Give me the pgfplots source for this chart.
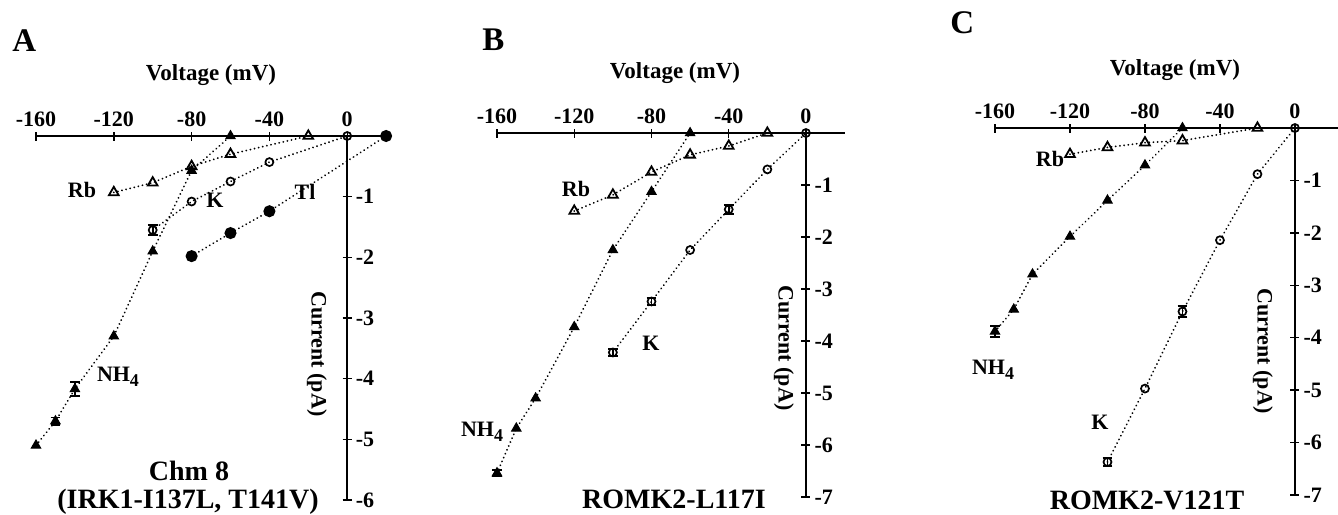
\documentclass[border=0pt]{standalone}
\usepackage{fontspec}
\setmainfont{Liberation Serif}
\usepackage{pgfplots}
\pgfplotsset{compat=1.18}

\newcommand{\fs}{\fontsize{11}{13}\selectfont\bfseries}
\newcommand{\NH}{NH\raisebox{-0.5ex}{\fontsize{9}{10}\selectfont 4}}
\pgfplotsset{
  ivstyle/.style={
    scale only axis, clip=false,
    axis lines=middle,
    axis line style={-, line width=0.9pt, black},
    every inner x axis line/.append style={-},
    every inner y axis line/.append style={-},
    hide obscured x ticks=false,
    hide obscured y ticks=false,
    tick align=center, major tick length=4.5pt,
    tick style={line width=0.7pt, black},
    xtick={-160,-120,-80,-40,0},
    xticklabels={-160,-120,-80,-40,0},
    xticklabel style={anchor=south, yshift=3.5pt, font=\fs},
    yticklabel style={anchor=west, xshift=3pt, font=\fs},
  },
  dl/.style={black, line width=1pt, dash pattern=on 0.01pt off 2.1pt, line cap=round},
  ftri/.style={dl, mark=triangle*, mark size=2.7pt, mark options={solid, fill=black, draw=black, line width=0.5pt}},
  otri/.style={dl, mark=triangle, mark size=2.8pt, mark options={solid, draw=black, line width=0.9pt}},
  ocirc/.style={dl, mark=o, mark size=2pt, mark options={solid, draw=black, line width=0.85pt}},
  fcirc/.style={dl, mark=*, mark size=2.5pt, mark options={solid, fill=black, draw=black}},
  eb/.style={draw=none, mark=none, forget plot,
    error bars/.cd, y dir=both, y explicit,
    error mark=|,
    error bar style={line width=0.8pt, black},
    error mark options={line width=0.9pt, mark size=2.4pt, black}},
}

\begin{document}
\begin{tikzpicture}[x=0.5pt, y=0.5pt]
\path[use as bounding box] (0,0) rectangle (1338,-514);

% ---------------- Panel A ----------------
\begin{axis}[ivstyle, at={(18pt,-250pt)}, anchor=south west,
  width=177pt, height=182pt,
  xmin=-160, xmax=22, ymin=-6, ymax=0,
  ytick={-6,-5,-4,-3,-2,-1}, yticklabels={-6,-5,-4,-3,-2,-1}]
\addplot[ftri] coordinates {(-160,-5.1) (-150,-4.7) (-140,-4.17) (-120,-3.3) (-100,-1.9) (-80,-0.57) (-60,0)};
\addplot[eb] coordinates {(-140,-4.17) +- (0,0.12) (-150,-4.7) +- (0,0.06)};
\addplot[otri] coordinates {(-120,-0.93) (-100,-0.77) (-80,-0.5) (-60,-0.3) (-20,0)};
\addplot[ocirc] coordinates {(-100,-1.55) (-80,-1.08) (-60,-0.75) (-40,-0.43) (0,0)};
\addplot[eb] coordinates {(-100,-1.55) +- (0,0.08)};
\addplot[fcirc] coordinates {(-80,-1.98) (-60,-1.6) (-40,-1.24) (20,0)};
\end{axis}

% ---------------- Panel B ----------------
\begin{axis}[ivstyle, at={(248.5pt,-248.5pt)}, anchor=south west,
  width=173.8pt, height=182pt,
  xmin=-160, xmax=20, ymin=-7, ymax=0,
  ytick={-7,-6,-5,-4,-3,-2,-1}, yticklabels={-7,-6,-5,-4,-3,-2,-1}]
\addplot[ftri] coordinates {(-160,-6.54) (-150,-5.68) (-140,-5.1) (-120,-3.73) (-100,-2.25) (-80,-1.13) (-60,0)};
\addplot[eb] coordinates {(-160,-6.54) +- (0,0.06)};
\addplot[otri] coordinates {(-120,-1.5) (-100,-1.19) (-80,-0.75) (-60,-0.42) (-40,-0.25) (-20,0)};
\addplot[ocirc] coordinates {(-100,-4.22) (-80,-3.24) (-60,-2.25) (-40,-1.47) (-20,-0.7) (0,0)};
\addplot[eb] coordinates {(-100,-4.22) +- (0,0.07) (-80,-3.24) +- (0,0.07) (-40,-1.47) +- (0,0.08)};
\end{axis}

% ---------------- Panel C ----------------
\begin{axis}[ivstyle, at={(497.5pt,-247.5pt)}, anchor=south west,
  width=173.4pt, height=183.5pt,
  xmin=-160, xmax=25, ymin=-7, ymax=0,
  ytick={-7,-6,-5,-4,-3,-2,-1}, yticklabels={-7,-6,-5,-4,-3,-2,-1}]
\addplot[ftri] coordinates {(-160,-3.88) (-150,-3.46) (-140,-2.79) (-120,-2.07) (-100,-1.38) (-80,-0.71) (-60,0)};
\addplot[eb] coordinates {(-160,-3.88) +- (0,0.11)};
\addplot[otri] coordinates {(-120,-0.5) (-100,-0.37) (-80,-0.28) (-60,-0.24) (-20,0)};
\addplot[ocirc] coordinates {(-100,-6.37) (-80,-4.97) (-60,-3.5) (-40,-2.14) (-20,-0.88) (0,0)};
\addplot[eb] coordinates {(-100,-6.37) +- (0,0.08) (-60,-3.5) +- (0,0.1)};
\end{axis}

% ---------------- Text ----------------
\tikzset{every node/.style={inner sep=0pt, font=\fs}}
% panel letters
\node[anchor=base west, font=\fontsize{16.5}{18}\selectfont\bfseries] at (12,-51) {A};
\node[anchor=base west, font=\fontsize{16.5}{18}\selectfont\bfseries] at (482,-50) {B};
\node[anchor=base west, font=\fontsize{16.5}{18}\selectfont\bfseries] at (950,-33) {C};
% axis labels
\node[anchor=base, font=\fontsize{11.5}{13}\selectfont\bfseries] at (211,-80) {Voltage (mV)};
\node[anchor=base, font=\fontsize{11.5}{13}\selectfont\bfseries] at (675,-78) {Voltage (mV)};
\node[anchor=base, font=\fontsize{11.5}{13}\selectfont\bfseries] at (1175,-75) {Voltage (mV)};
\node[rotate=-90] at (317,-354) {Current (pA)};
\node[rotate=-90] at (784,-348) {Current (pA)};
\node[rotate=-90] at (1263,-351) {Current (pA)};
% titles
\node[anchor=base, font=\fontsize{14}{16}\selectfont\bfseries] at (189,-480) {Chm 8};
\node[anchor=base, font=\fontsize{14}{16}\selectfont\bfseries] at (188,-508) {(IRK1-I137L, T141V)};
\node[anchor=base, font=\fontsize{14}{16}\selectfont\bfseries] at (674,-508) {ROMK2-L117I};
\node[anchor=base, font=\fontsize{14}{16}\selectfont\bfseries] at (1147,-509) {ROMK2-V121T};
% series labels A
\node at (82,-190) {Rb};
\node at (215,-200) {K};
\node at (305,-192) {Tl};
\node at (118,-377) {\NH};
% series labels B
\node at (576,-189) {Rb};
\node at (651,-343) {K};
\node at (482,-432) {\NH};
% series labels C
\node at (1050,-159) {Rb};
\node at (993,-370) {\NH};
\node at (1100,-422) {K};
\end{tikzpicture}
\end{document}
